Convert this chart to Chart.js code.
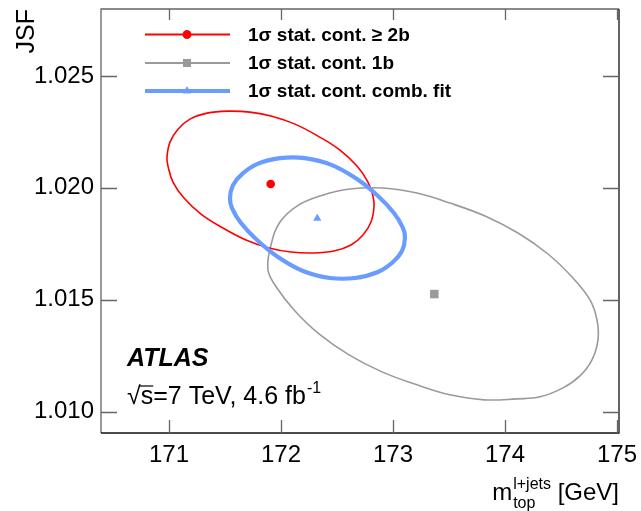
<!DOCTYPE html>
<html><head><meta charset="utf-8">
<script src="https://cdn.jsdelivr.net/npm/chart.js@4/dist/chart.umd.min.js"></script>
<style>html,body{margin:0;padding:0;background:#fff;}#wrap{width:641px;height:511px;}</style>
</head><body><div id="wrap"><canvas id="c" width="641" height="511"></canvas></div>
<script>
// ---------------- DATA ----------------
const xTicks = [171, 172, 173, 174, 175];
const yTicks = [1.010, 1.015, 1.020, 1.025];
const xRange = [170.393, 175.018];
const yRange = [1.00904, 1.02799];

const legendLabels = ['1\u03C3 stat. cont. \u2265 2b', '1\u03C3 stat. cont. 1b', '1\u03C3 stat. cont. comb. fit'];

// 1 sigma contour, >= 2b (closed loop)
const cont2bX = [170.9821, 171.0089, 171.0804, 171.1875, 171.3393, 171.5268, 171.7232, 171.9196, 172.125, 172.3304, 172.5268, 172.6786, 172.7768, 172.8214, 172.8304, 172.8036, 172.7321, 172.625, 172.4732, 172.2857, 172.0893, 171.8929, 171.6875, 171.4821, 171.2857, 171.1339, 171.0357, 170.9911];
const cont2bY = [1.02137, 1.02204, 1.02262, 1.023067, 1.023335, 1.023424, 1.02338, 1.023201, 1.022844, 1.022308, 1.021683, 1.020969, 1.020255, 1.01963, 1.019138, 1.018469, 1.017888, 1.017442, 1.017174, 1.017085, 1.01713, 1.017308, 1.017665, 1.018201, 1.018826, 1.01954, 1.020255, 1.020969];
// 1 sigma contour, 1b (closed loop)
const cont1bX = [171.8839, 171.9107, 171.9911, 172.1429, 172.3482, 172.6161, 172.9107, 173.2143, 173.5089, 173.8214, 174.1161, 174.3839, 174.5982, 174.7589, 174.8214, 174.8304, 174.7768, 174.6696, 174.5179, 174.3125, 174.1071, 173.8125, 173.5089, 173.2143, 172.9018, 172.6071, 172.3393, 172.125, 171.9643];
const cont1bY = [1.016326, 1.017442, 1.018469, 1.019183, 1.01963, 1.019942, 1.019987, 1.019763, 1.019317, 1.018737, 1.017978, 1.01704, 1.016013, 1.014987, 1.014094, 1.013201, 1.012308, 1.011594, 1.011058, 1.010656, 1.010567, 1.010522, 1.010746, 1.011192, 1.011772, 1.012531, 1.013469, 1.014496, 1.015522];
// 1 sigma contour, combined fit (closed loop)
const contCombX = [171.5446, 171.5714, 171.6518, 171.7857, 171.9911, 172.2143, 172.4554, 172.6786, 172.8661, 173.0089, 173.0893, 173.1071, 173.0804, 173.0, 172.8661, 172.6607, 172.4375, 172.1964, 171.9732, 171.7857, 171.6429, 171.5625];
const contCombY = [1.01954, 1.020121, 1.020612, 1.021058, 1.021326, 1.021326, 1.021013, 1.020388, 1.01963, 1.018871, 1.018201, 1.017755, 1.017174, 1.016683, 1.016237, 1.015969, 1.015969, 1.016281, 1.016906, 1.017665, 1.018424, 1.019094];
// best-fit points
const best2b = [171.908, 1.02017];
const best1b = [173.369, 1.01525];
const bestComb = [172.324, 1.01863];

// ---------------- STYLE ----------------
const FAM = '"Liberation Sans", Arial, Helvetica, sans-serif';
const RED = '#ff0000', GRAY = '#9a9a9a', BLUE = '#6a9bff';

function zip(xs, ys) { return xs.map((x, i) => ({x: x, y: ys[i]})); }

const contourStyle = (col, w, ord) => ({showLine: true, borderColor: col, borderWidth: w, pointRadius: 0, pointHoverRadius: 0, tension: 0.4, spanGaps: true, fill: false, order: ord});

const datasets = [
  Object.assign({label: legendLabels[0], data: zip(cont2bX, cont2bY)}, contourStyle(RED, 1.6, 3)),
  Object.assign({label: legendLabels[1], data: zip(cont1bX, cont1bY)}, contourStyle(GRAY, 1.6, 4)),
  Object.assign({label: legendLabels[2], data: zip(contCombX, contCombY)}, contourStyle(BLUE, 4.2, 2)),
  {label: 'best 2b', data: [{x: best2b[0], y: best2b[1]}], pointStyle: 'circle', pointRadius: 4.3, backgroundColor: RED, borderColor: RED, borderWidth: 0, showLine: false, order: 0},
  {label: 'best 1b', data: [{x: best1b[0], y: best1b[1]}], pointStyle: 'rect', pointRadius: 6.0, backgroundColor: GRAY, borderColor: GRAY, borderWidth: 0, showLine: false, order: 0},
  {label: 'best comb', data: [{x: bestComb[0], y: bestComb[1]}], pointStyle: 'triangle', pointRadius: 4.8, backgroundColor: BLUE, borderColor: BLUE, borderWidth: 0, showLine: false, order: 0}
];

function drawMarker(ctx, style, x, y, r, col) {
  ctx.save();
  ctx.fillStyle = col;
  Chart.helpers.drawPoint(ctx, {pointStyle: style, radius: r, borderWidth: 0, rotation: 0}, x, y);
  ctx.fill();
  ctx.restore();
}

// close contour lines smoothly (no kink at the first point)
const loopPlugin = {
  id: 'loop',
  afterDatasetsUpdate(chart) {
    [0, 1, 2].forEach(i => {
      const el = chart.getDatasetMeta(i).dataset;
      if (!el) return;
      el._loop = true; el._fullLoop = true;
      el._pointsUpdated = false; el._segments = undefined; el._path = undefined;
    });
  }
};

const decorPlugin = {
  id: 'decor',
  afterDraw(chart) {
    const ctx = chart.ctx, a = chart.chartArea;
    const xs = chart.scales.x, ys = chart.scales.y;
    ctx.save();
    // frame
    ctx.lineWidth = 1.3;
    ctx.strokeStyle = '#666';
    ctx.beginPath();
    ctx.moveTo(a.left, a.bottom); ctx.lineTo(a.left, a.top); ctx.lineTo(a.right, a.top);
    ctx.stroke();
    ctx.strokeStyle = '#111';
    ctx.beginPath();
    ctx.moveTo(a.right, a.top); ctx.lineTo(a.right, a.bottom); ctx.lineTo(a.left, a.bottom);
    ctx.stroke();
    // inner ticks
    ctx.strokeStyle = '#666';
    ctx.lineWidth = 1.3;
    ctx.beginPath();
    xTicks.forEach(v => {
      const px = Math.round(xs.getPixelForValue(v)) + 0.5;
      ctx.moveTo(px, a.bottom); ctx.lineTo(px, a.bottom - 13);
      ctx.moveTo(px, a.top); ctx.lineTo(px, a.top + 11);
    });
    yTicks.forEach(v => {
      const py = Math.round(ys.getPixelForValue(v)) + 0.5;
      ctx.moveTo(a.left, py); ctx.lineTo(a.left + 16, py);
      ctx.moveTo(a.right, py); ctx.lineTo(a.right - 16, py);
    });
    ctx.stroke();

    // legend
    const rows = [34.5, 63, 91];
    const cols = [RED, GRAY, BLUE];
    const widths = [2, 2, 4];
    const styles = ['circle', 'rect', 'triangle'];
    const radii = [4.3, 5.6, 4.6];
    rows.forEach((ry, i) => {
      ctx.strokeStyle = cols[i];
      ctx.lineWidth = widths[i];
      ctx.beginPath(); ctx.moveTo(145, ry); ctx.lineTo(230, ry); ctx.stroke();
      drawMarker(ctx, styles[i], 187, ry, radii[i], cols[i]);
      ctx.fillStyle = '#000';
      ctx.font = 'bold 19px ' + FAM;
      ctx.textAlign = 'left'; ctx.textBaseline = 'middle';
      ctx.fillText(legendLabels[i], 248, ry + 1);
    });

    // ATLAS label
    ctx.fillStyle = '#000';
    ctx.textBaseline = 'alphabetic';
    ctx.font = 'italic bold 25px ' + FAM;
    ctx.fillText('ATLAS', 127, 366);
    ctx.font = '25px ' + FAM;
    const sq = '\u221A';
    ctx.fillText(sq, 127, 404);
    const sqW = ctx.measureText(sq).width;
    const sW = ctx.measureText('s').width;
    ctx.fillText('s', 127 + sqW, 404);
    ctx.lineWidth = 1.2; ctx.strokeStyle = '#000';
    ctx.beginPath(); ctx.moveTo(127 + sqW - 1, 386); ctx.lineTo(127 + sqW + sW, 386); ctx.stroke();
    const rest = '=7 TeV, 4.6 fb';
    ctx.fillText(rest, 127 + sqW + sW, 404);
    const rW = ctx.measureText(rest).width;
    ctx.font = '16px ' + FAM;
    ctx.fillText('-1', 127 + sqW + sW + rW + 1, 393);

    // x axis title: m_top^{l+jets} [GeV]
    ctx.font = '24px ' + FAM;
    const mW = ctx.measureText('m').width;
    const gv = ' [GeV]';
    const gW = ctx.measureText(gv).width;
    ctx.font = '16px ' + FAM;
    const supW = ctx.measureText('l+jets').width;
    const subW = ctx.measureText('top').width;
    const scW = Math.max(supW, subW) + 1;
    const right = a.right;
    const x0 = right - (mW + scW + gW);
    const base = 500;
    ctx.font = '24px ' + FAM;
    ctx.fillText('m', x0, base);
    ctx.fillText(gv, x0 + mW + scW, base);
    ctx.font = '16px ' + FAM;
    ctx.fillText('l+jets', x0 + mW + 1, base - 11);
    ctx.fillText('top', x0 + mW + 1, base + 8);
    ctx.restore();
  }
};

function zeroPad(s) { s.paddingTop = 0; s.paddingBottom = 0; s.paddingLeft = 0; s.paddingRight = 0; }

new Chart(document.getElementById('c').getContext('2d'), {
  type: 'scatter',
  data: {datasets: datasets},
  options: {
    responsive: false,
    animation: false,
    devicePixelRatio: 1,
    events: [],
    layout: {padding: {top: 9, right: 22, left: 0, bottom: 0}},
    plugins: {legend: {display: false}, tooltip: {enabled: false}},
    scales: {
      x: {
        type: 'linear', min: xRange[0], max: xRange[1],
        afterBuildTicks: s => { s.ticks = xTicks.map(v => ({value: v})); },
        afterFit: s => { s.height = 78; zeroPad(s); },
        grid: {display: false, drawTicks: false},
        border: {display: false},
        ticks: {font: {family: FAM, size: 24}, color: '#000', padding: 8, maxRotation: 0, autoSkip: false, callback: v => String(v)}
      },
      y: {
        type: 'linear', min: yRange[0], max: yRange[1],
        afterBuildTicks: s => { s.ticks = yTicks.map(v => ({value: v})); },
        afterFit: s => { s.width = 101; zeroPad(s); },
        grid: {display: false, drawTicks: false},
        border: {display: false},
        title: {display: true, text: 'JSF', align: 'end', font: {family: FAM, size: 25}, color: '#000', padding: {top: 12, bottom: 0}},
        ticks: {font: {family: FAM, size: 24}, color: '#000', padding: 7, autoSkip: false, callback: v => Number(v).toFixed(3)}
      }
    }
  },
  plugins: [loopPlugin, decorPlugin]
});
</script>
</body></html>
